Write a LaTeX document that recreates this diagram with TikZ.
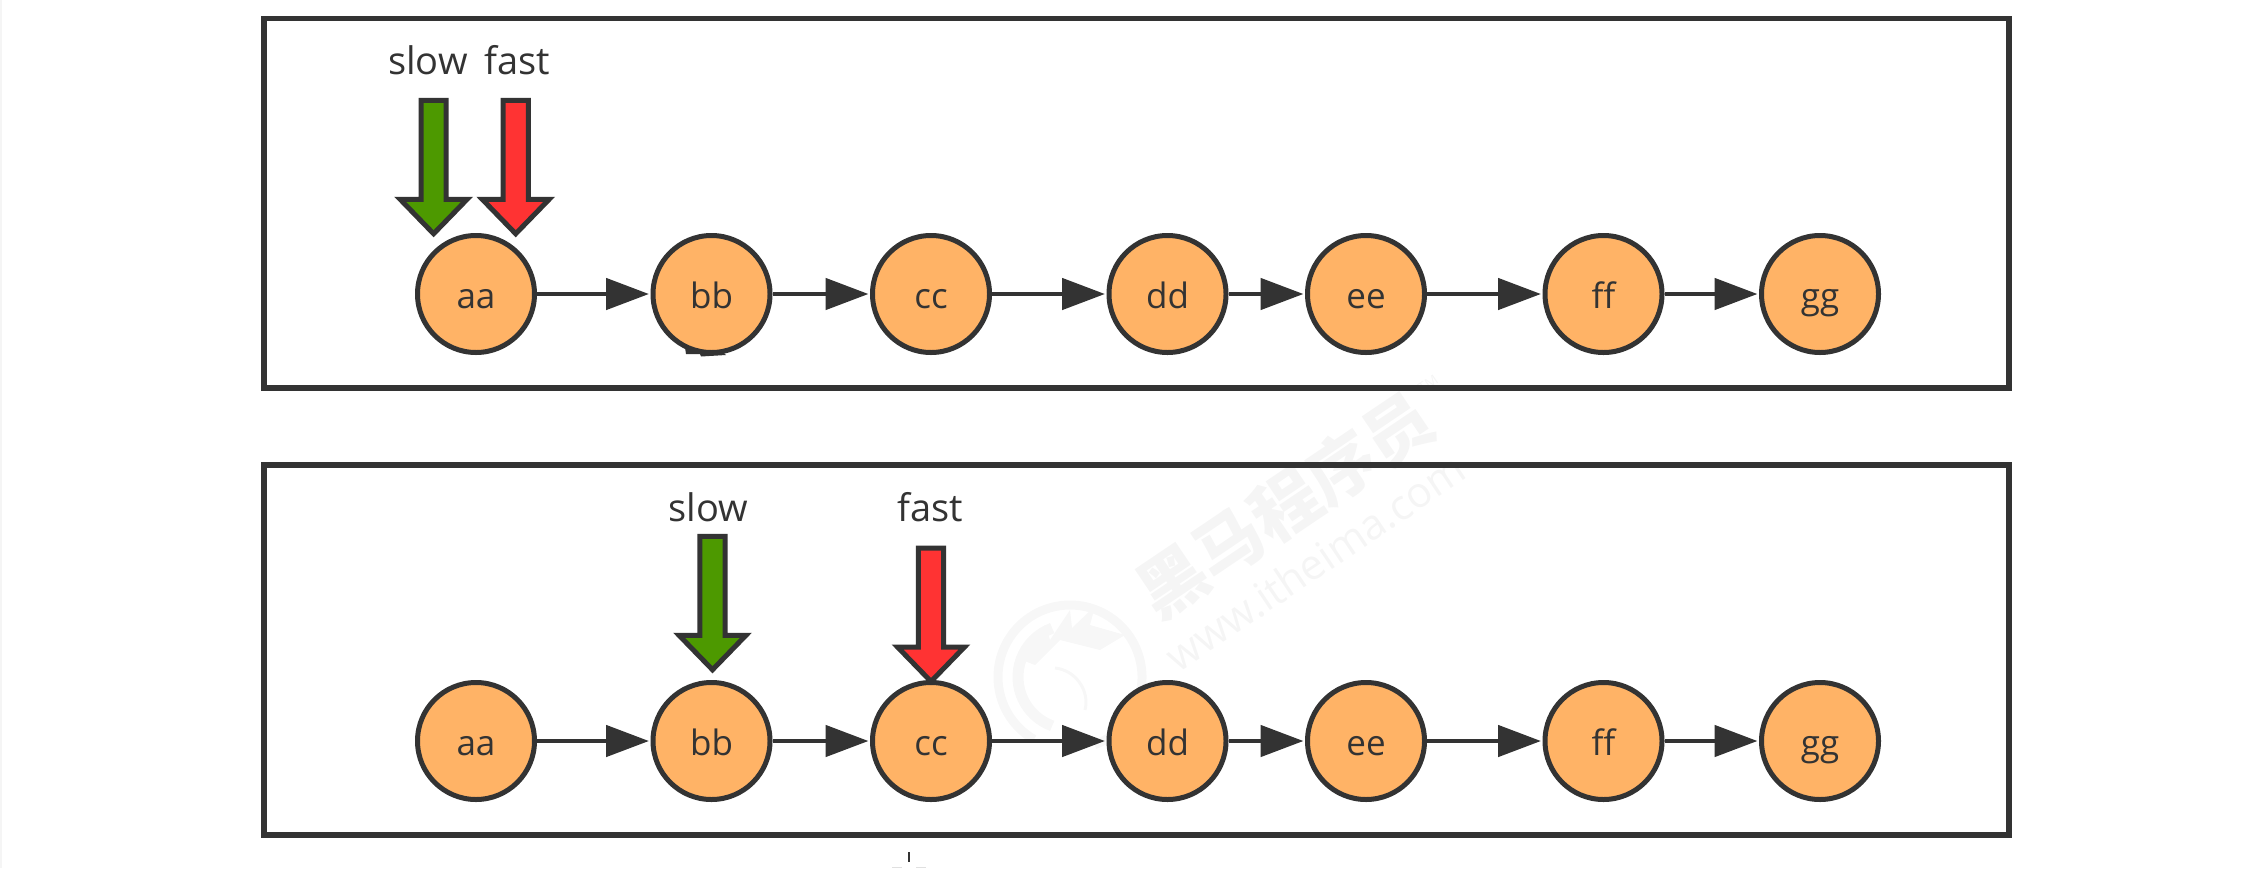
\documentclass[tikz,border=0pt]{standalone}
\usepackage{fontspec}
\setmainfont{Open Sans}
\newfontfamily\cjkwm{Noto Sans CJK SC}
\usetikzlibrary{arrows.meta}
\definecolor{ink}{HTML}{333333}
\definecolor{nodefill}{HTML}{FFB366}
\definecolor{slowgreen}{HTML}{4D9900}
\definecolor{fastred}{HTML}{FF3333}
\definecolor{wm}{HTML}{F5F5F5}
\definecolor{wmlogo}{HTML}{F7F7F7}
\tikzset{
  framebox/.style={draw=ink,line width=5.5pt,fill=none},
  listnode/.style={circle,draw=ink,fill=nodefill,line width=5pt,minimum size=117pt,inner sep=0pt,text=ink,text height=28pt,text depth=0pt,font=\fontsize{35}{38}\selectfont},
  link/.style={draw=ink,line width=4.8pt,-{Triangle[length=43pt,width=31pt]},shorten >=1.5pt},
  ptrlabel/.style={anchor=base,text=ink,inner sep=0pt,font=\fontsize{38}{42}\selectfont},
  pointer/.style={draw=ink,line width=5pt,line join=miter},
  blockarrow/.pic={
    \path[pic actions] (-12.6,0) -- (12.6,0) -- (12.6,99) -- (33.5,99) -- (0,133.5) -- (-33.5,99) -- (-12.6,99) -- cycle;
  },
  wmtext/.style={text=wm,inner sep=0pt,rotate=34}
}
\begin{document}
\begin{tikzpicture}[x=1pt,y=-1pt]
\useasboundingbox (0,0) rectangle (2252,868);
% scan edge
\fill[wm] (0,0) rectangle (2,868);
% watermark
\node[wmtext,font=\cjkwm\bfseries\fontsize{68}{70}\selectfont] (wmcn) at (1285,505) {黑马程序员};
\node[wmtext,font=\fontsize{42}{44}\selectfont] (wmen) at (1315,562) {www.itheima.com};
\node[wmtext,font=\fontsize{14}{16}\selectfont] (wmtm) at (1428,384) {TM};
\draw[wmlogo,line width=9pt] (1070,677) ++(120:72) arc[start angle=120,end angle=430,radius=72];
\draw[wmlogo,line width=11pt] (1070,677) ++(110:52) arc[start angle=110,end angle=250,radius=52];
\fill[wmlogo] (1022,660) -- (1045,625) -- (1050,640) -- (1070,610) -- (1072,628) -- (1095,606) -- (1090,625) -- (1125,635) -- (1100,650) -- (1060,640) -- (1035,665) -- cycle;
\draw[wmlogo,line width=3pt] (1055,668) .. controls (1075,670) and (1090,690) .. (1085,710);
% frames
\draw[framebox] (264,18.5) rectangle (2009,388);
\draw[framebox] (264,465) rectangle (2009,835);
% stray marks from the source
\fill[ink] (684,341) -- (686,354) -- (700,354) -- (701,356.5) -- (726,355) -- (712,343) -- cycle;
\fill[ink] (907.8,852) rectangle (910.4,862);
\fill[black!12] (892,866.5) rectangle (902,868);
\fill[black!12] (916,866.5) rectangle (926,868);
% row 1
\node[listnode] (a1) at (476,294) {aa};
\node[listnode] (b1) at (711.5,294) {bb};
\node[listnode] (c1) at (931,294) {cc};
\node[listnode] (d1) at (1167.5,294) {dd};
\node[listnode] (e1) at (1366,294) {ee};
\node[listnode] (f1) at (1603.5,294) {ff};
\node[listnode] (g1) at (1820,294) {gg};
\draw[link] (a1) -- (b1);
\draw[link] (b1) -- (c1);
\draw[link] (c1) -- (d1);
\draw[link] (d1) -- (e1);
\draw[link] (e1) -- (f1);
\draw[link] (f1) -- (g1);
\pic[pointer,fill=slowgreen] at (433.6,100.25) {blockarrow};
\pic[pointer,fill=fastred] at (515.7,100.25) {blockarrow};
\node[ptrlabel] (slow1) at (428,74) {slow};
\node[ptrlabel] (fast1) at (517,74) {fast};
% row 2
\node[listnode] (a2) at (476,741) {aa};
\node[listnode] (b2) at (711.5,741) {bb};
\node[listnode] (c2) at (931,741) {cc};
\node[listnode] (d2) at (1167.5,741) {dd};
\node[listnode] (e2) at (1366,741) {ee};
\node[listnode] (f2) at (1603.5,741) {ff};
\node[listnode] (g2) at (1820,741) {gg};
\draw[link] (a2) -- (b2);
\draw[link] (b2) -- (c2);
\draw[link] (c2) -- (d2);
\draw[link] (d2) -- (e2);
\draw[link] (e2) -- (f2);
\draw[link] (f2) -- (g2);
\pic[pointer,fill=slowgreen] at (712.5,536.25) {blockarrow};
\pic[pointer,fill=fastred] at (931,548) {blockarrow};
\node[ptrlabel] (slow2) at (708,521.7) {slow};
\node[ptrlabel] (fast2) at (930,521.7) {fast};
\end{tikzpicture}
\end{document}
